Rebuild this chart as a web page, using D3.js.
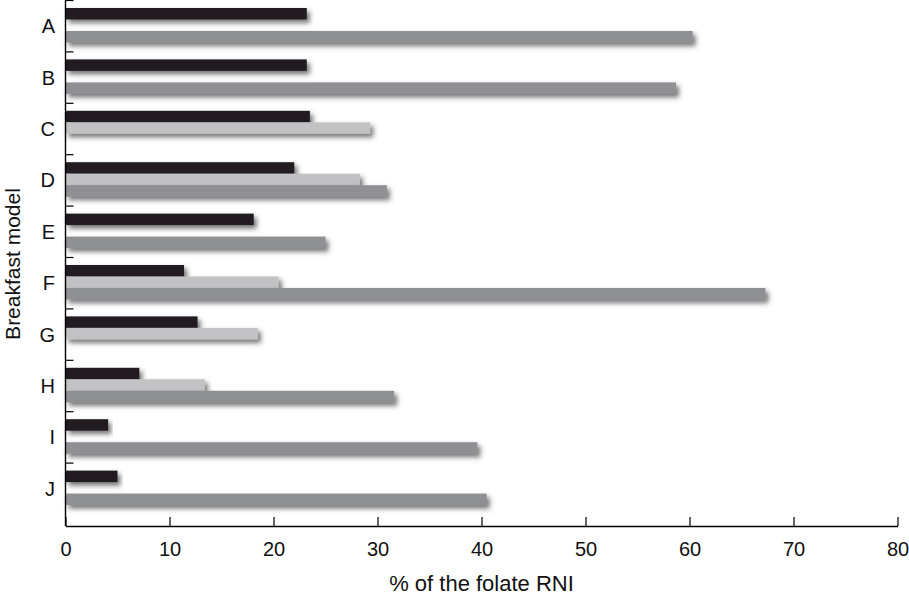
<!DOCTYPE html>
<html>
<head>
<meta charset="utf-8">
<script src="https://cdn.jsdelivr.net/npm/d3@7"></script>
<style>
    body { margin: 0; background: #ffffff; }
    svg { display: block; font-family: "Liberation Sans", Arial, Helvetica, sans-serif; }
</style>
</head>
<body>
<svg id="chart" width="909" height="599"></svg>
<script>
// categories on the y axis, top to bottom
let categories = ['A', 'B', 'C', 'D', 'E', 'F', 'G', 'H', 'I', 'J'];

// three series, one bar each per category (0 = no bar)
let seriesNames = ['black', 'light', 'dark'];
let blackValues = [23.2, 23.2, 23.5, 22.0, 18.1, 11.4, 12.7, 7.1, 4.1, 5.0];
let lightValues = [0, 0, 29.3, 28.3, 0, 20.5, 18.5, 13.4, 0, 0];
let darkValues = [60.3, 58.7, 0, 30.9, 25.0, 67.3, 0, 31.6, 39.6, 40.5];

let xTicks = [0, 10, 20, 30, 40, 50, 60, 70, 80];

let colors = {black: '#231f20', light: '#c2c2c4', dark: '#8e9093'};

function start(){
    let svg = d3.select('#chart');

    let x = d3.scaleLinear()
        .domain([0, 80])
        .range([65.5, 897.5]);

    let y = d3.scaleBand()
        .domain(categories)
        .range([0.5, 514.5]);

    // bars sit in the middle part of each band
    let ySub = d3.scaleBand()
        .domain(seriesNames)
        .range([7.5, 42]);

    let defs = svg.append('defs');
    let filter = defs.append('filter')
        .attr('id', 'shadow')
        .attr('x', '-5%')
        .attr('y', '-50%')
        .attr('width', '115%')
        .attr('height', '250%');
    filter.append('feDropShadow')
        .attr('dx', 3)
        .attr('dy', 3.5)
        .attr('stdDeviation', 2.4)
        .attr('flood-color', '#3a3a3a')
        .attr('flood-opacity', 0.7);

    let rows = [];
    categories.forEach(function(c, i){
        rows.push({cat: c, series: 'black', value: blackValues[i]});
        rows.push({cat: c, series: 'light', value: lightValues[i]});
        rows.push({cat: c, series: 'dark', value: darkValues[i]});
    });

    // draw black first, then light, then dark so each covers the shadow above it
    svg.append('g')
        .attr('class', 'bars')
        .selectAll('rect')
        .data(rows.filter(function(d){ return d.value > 0; }))
        .enter()
        .append('rect')
        .attr('x', x(0))
        .attr('y', function(d){ return y(d.cat) + ySub(d.series); })
        .attr('width', function(d){ return x(d.value) - x(0); })
        .attr('height', ySub.bandwidth())
        .attr('fill', function(d){ return colors[d.series]; })
        .attr('filter', 'url(#shadow)');

    drawAxes(svg, x, y);
}

function drawAxes(svg, x, y){
    let axisY = 526;

    // x axis, ticks pointing up into the plot
    let xAxis = d3.axisBottom(x)
        .tickValues(xTicks)
        .tickSize(-9)
        .tickPadding(16)
        .tickSizeOuter(0);

    let gx = svg.append('g')
        .attr('transform', `translate(0,${axisY})`)
        .call(xAxis);
    gx.select('.domain').attr('stroke', '#000').attr('stroke-width', 1.4);
    gx.selectAll('.tick line').attr('stroke', '#000').attr('stroke-width', 1.2);
    gx.selectAll('.tick text')
        .attr('font-size', 20)
        .attr('fill', '#111')
        .attr('font-family', '"Liberation Sans", Arial, sans-serif');

    // y axis line
    svg.append('line')
        .attr('x1', x(0)).attr('x2', x(0))
        .attr('y1', 0).attr('y2', axisY)
        .attr('stroke', '#000')
        .attr('stroke-width', 1.4);

    // y ticks at the top of each band, pointing right
    svg.append('g')
        .selectAll('line')
        .data(categories)
        .enter()
        .append('line')
        .attr('x1', x(0)).attr('x2', x(0) + 8)
        .attr('y1', function(d){ return y(d); })
        .attr('y2', function(d){ return y(d); })
        .attr('stroke', '#000')
        .attr('stroke-width', 1.2);

    svg.append('g')
        .selectAll('text')
        .data(categories)
        .enter()
        .append('text')
        .attr('x', 55)
        .attr('y', function(d){ return y(d) + y.bandwidth() / 2; })
        .attr('dy', '0.35em')
        .attr('text-anchor', 'end')
        .attr('font-size', 20)
        .attr('fill', '#111')
        .text(function(d){ return d; });

    svg.append('text')
        .attr('x', (x.range()[0] + x.range()[1]) / 2)
        .attr('y', 591)
        .attr('text-anchor', 'middle')
        .attr('font-size', 22)
        .attr('fill', '#111')
        .text('% of the folate RNI');

    svg.append('text')
        .attr('transform', 'translate(20,264) rotate(-90)')
        .attr('text-anchor', 'middle')
        .attr('font-size', 21)
        .attr('fill', '#111')
        .text('Breakfast model');
}

start();
</script>
</body>
</html>
